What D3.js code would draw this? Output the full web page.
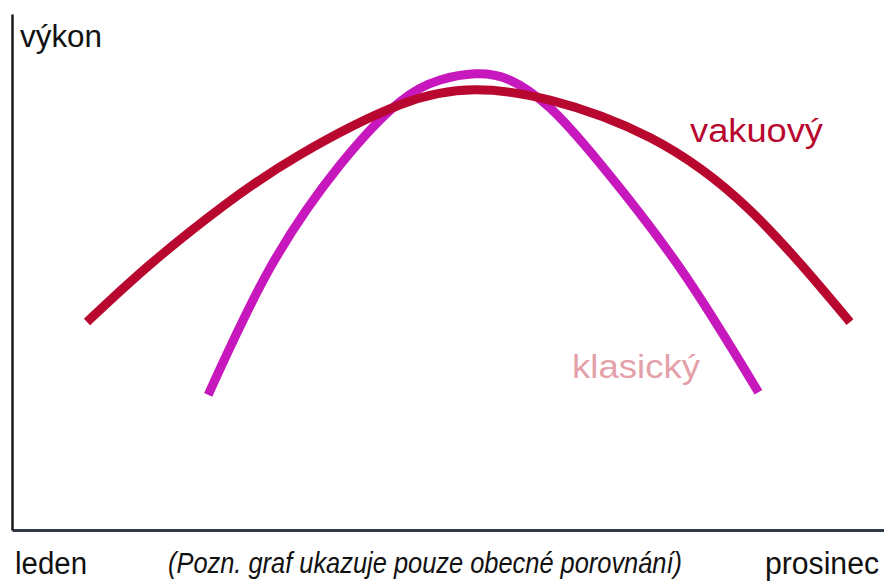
<!DOCTYPE html>
<html>
<head>
<meta charset="utf-8">
<script src="https://cdn.jsdelivr.net/npm/d3@7"></script>
<style>
  body { margin: 0; background: #fff; }
  text { font-family: "Liberation Sans", Arial, sans-serif; }
</style>
</head>
<body>
<svg id="chart" width="884" height="583"></svg>
<script>
// data: x = position in the year (0..100), y = output (0..100)
let vakuovyX = [8.6, 15.8, 24.4, 33.0, 44.5, 53.1, 61.7, 73.2, 84.6, 96.1];
let vakuovyY = [40.3, 51.4, 63.0, 72.7, 82.4, 85.3, 83.3, 76.0, 62.0, 40.3];

let klasickyX = [22.5, 29.6, 37.6, 44.5, 49.1, 53.1, 57.1, 61.7, 67.4, 76.6, 85.6];
let klasickyY = [26.2, 50.8, 70.7, 83.0, 87.2, 88.4, 87.2, 81.8, 71.1, 50.8, 26.7];

let xLabels = ["leden", "prosinec"];
let yLabel = "výkon";
let note = "(Pozn. graf ukazuje pouze obecné porovnání)";
let seriesNames = ["vakuový", "klasický"];

let svg = d3.select("#chart");

// Scales:
let x = d3.scaleLinear().domain([0, 100]).range([12, 884]);
let y = d3.scaleLinear().domain([0, 100]).range([530, 14]);

// Axes (just the lines, no ticks):
svg.append("g")
  .attr("transform", "translate(0, 530)")
  .call(d3.axisBottom(x).ticks(0).tickSizeOuter(0))
  .select(".domain")
  .attr("stroke", "#2e3a45")
  .attr("stroke-width", 3);

svg.append("g")
  .attr("transform", "translate(12, 0)")
  .call(d3.axisLeft(y).ticks(0).tickSizeOuter(0))
  .select(".domain")
  .attr("stroke", "#1a1a1a")
  .attr("stroke-width", 2.5);

let line = d3.line()
  .x(d => x(d[0]))
  .y(d => y(d[1]))
  .curve(d3.curveNatural);

let vakuovy = d3.zip(vakuovyX, vakuovyY);
let klasicky = d3.zip(klasickyX, klasickyY);

svg.append("path")
  .datum(klasicky)
  .attr("fill", "none")
  .attr("stroke", "#c618bd")
  .attr("stroke-width", 9)
  .attr("d", line);

svg.append("path")
  .datum(vakuovy)
  .attr("fill", "none")
  .attr("stroke", "#b80830")
  .attr("stroke-width", 9)
  .attr("d", line);

// labels
svg.append("text")
  .attr("x", 20).attr("y", 47)
  .attr("font-size", 31)
  .attr("textLength", 82).attr("lengthAdjust", "spacingAndGlyphs")
  .attr("fill", "#111")
  .text(yLabel);

svg.append("text")
  .attr("x", 690).attr("y", 142)
  .attr("font-size", 33)
  .attr("textLength", 133).attr("lengthAdjust", "spacingAndGlyphs")
  .attr("fill", "#b80830")
  .text(seriesNames[0]);

svg.append("text")
  .attr("x", 572).attr("y", 378)
  .attr("font-size", 34)
  .attr("textLength", 128).attr("lengthAdjust", "spacingAndGlyphs")
  .attr("fill", "#e4a1aa")
  .text(seriesNames[1]);

svg.append("text")
  .attr("x", 15).attr("y", 574)
  .attr("font-size", 31)
  .attr("textLength", 72).attr("lengthAdjust", "spacingAndGlyphs")
  .attr("fill", "#111")
  .text(xLabels[0]);

svg.append("text")
  .attr("x", 765).attr("y", 574)
  .attr("font-size", 31)
  .attr("textLength", 114).attr("lengthAdjust", "spacingAndGlyphs")
  .attr("fill", "#111")
  .text(xLabels[1]);

svg.append("text")
  .attr("x", 168).attr("y", 573)
  .attr("font-size", 29)
  .attr("font-style", "italic")
  .attr("textLength", 514).attr("lengthAdjust", "spacingAndGlyphs")
  .attr("fill", "#111")
  .text(note);
</script>
</body>
</html>
